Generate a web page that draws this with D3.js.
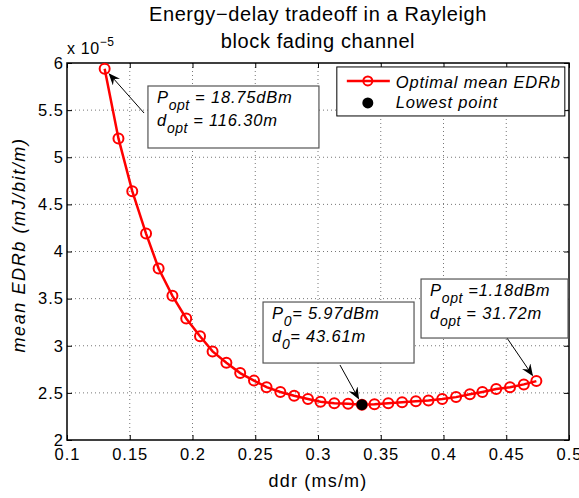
<!DOCTYPE html>
<html>
<head>
<meta charset="utf-8">
<script src="https://cdn.jsdelivr.net/npm/d3@7"></script>
<style>
  body { margin: 0; background: #fff; }
  text { font-family: "Liberation Sans", Arial, Helvetica, sans-serif; }
</style>
</head>
<body>
<svg id="chart" width="579" height="498"></svg>
<script>
// data (edrb in units of 1e-5 mJ/bit/m)
var ddr = [0.130, 0.141, 0.152, 0.163, 0.173, 0.184, 0.195, 0.206, 0.216, 0.227,
           0.238, 0.249, 0.259, 0.270, 0.281, 0.292, 0.302, 0.313, 0.324, 0.335,
           0.345, 0.356, 0.367, 0.378, 0.388, 0.399, 0.410, 0.421, 0.431, 0.442,
           0.453, 0.464, 0.474]
var edrb = [5.94, 5.20, 4.64, 4.19, 3.82, 3.53, 3.29, 3.10, 2.94, 2.82,
            2.71, 2.63, 2.56, 2.51, 2.47, 2.435, 2.405, 2.39, 2.385, 2.375,
            2.38, 2.39, 2.40, 2.41, 2.42, 2.435, 2.455, 2.485, 2.51, 2.54,
            2.56, 2.59, 2.625]
var lowestIndex = 19
var xTicks = [0.1, 0.15, 0.2, 0.25, 0.3, 0.35, 0.4, 0.45, 0.5]
var yTicks = [2, 2.5, 3, 3.5, 4, 4.5, 5, 5.5, 6]
var legendLabels = ["Optimal mean EDRb", "Lowest point"]

// annotation text: [main letter, subscript, rest]
var noteLines = [
  [["P", "opt", " = 18.75dBm"], ["d", "opt", " = 116.30m"]],
  [["P", "0", "= 5.97dBm"], ["d", "0", "= 43.61m"]],
  [["P", "opt", " =1.18dBm"], ["d", "opt", " = 31.72m"]]
]
var notePoint = [0, lowestIndex, 32]
// box top-left and arrow tail, in data coordinates
var noteBox = [[0.1645, 5.756], [0.2562, 3.464], [0.3821, 3.708]]
var noteTail = [[0.1614, 5.469], [0.3175, 2.796], [0.4506, 3.082]]
var noteSize = [[171, 62], [151, 61], [147, 59]]

var W = 579, H = 498
var margin = {top: 63, right: 10, bottom: 58, left: 67}
var width = W - margin.left - margin.right, height = H - margin.top - margin.bottom

var svg = d3.select("#chart")
var defs = svg.append("defs")
defs.append("marker")
  .attr("id", "head")
  .attr("viewBox", "0 0 12 10")
  .attr("refX", 11).attr("refY", 5)
  .attr("markerWidth", 12).attr("markerHeight", 10)
  .attr("markerUnits", "userSpaceOnUse")
  .attr("orient", "auto")
  .append("path")
  .attr("d", "M0,0 L12,5 L0,10 L4,5 Z")
  .attr("fill", "#000")

var g = svg.append("g").attr("transform", "translate(" + margin.left + "," + margin.top + ")")

var x = d3.scaleLinear().domain([0.1, 0.5]).range([0, width])
var y = d3.scaleLinear().domain([2, 6]).range([height, 0])

// grid
g.append("g").selectAll("line").data(xTicks.slice(1, -1)).enter().append("line")
  .attr("x1", d => x(d)).attr("x2", d => x(d)).attr("y1", 0).attr("y2", height)
  .style("stroke", "#777").style("stroke-width", 1).style("stroke-dasharray", "1,3")
g.append("g").selectAll("line").data(yTicks.slice(1, -1)).enter().append("line")
  .attr("y1", d => y(d)).attr("y2", d => y(d)).attr("x1", 0).attr("x2", width)
  .style("stroke", "#777").style("stroke-width", 1).style("stroke-dasharray", "1,3")

// axes with inward ticks
var fmt = d3.format("")
g.append("g").attr("transform", "translate(0," + height + ")")
  .call(d3.axisBottom(x).tickValues(xTicks).tickSizeInner(-5).tickSizeOuter(0).tickPadding(8).tickFormat(fmt))
g.append("g")
  .call(d3.axisLeft(y).tickValues(yTicks).tickSizeInner(-5).tickSizeOuter(0).tickPadding(3).tickFormat(fmt))
g.append("g").call(d3.axisTop(x).tickValues(xTicks).tickSizeInner(-5).tickSizeOuter(0).tickFormat(""))
g.append("g").attr("transform", "translate(" + width + ",0)")
  .call(d3.axisRight(y).tickValues(yTicks).tickSizeInner(-5).tickSizeOuter(0).tickFormat(""))
g.selectAll(".domain").remove()
g.selectAll(".tick line").style("stroke", "#000")
g.selectAll(".tick text").style("font-size", "16.5px").style("letter-spacing", "1px").style("fill", "#000")
g.append("rect").attr("width", width).attr("height", height)
  .style("fill", "none").style("stroke", "#000").style("stroke-width", 1.5)

// exponent
var ex = svg.append("text").attr("x", margin.left).attr("y", 54).style("font-size", "16px").style("letter-spacing", "0.6px")
ex.append("tspan").text("x 10")
ex.append("tspan").attr("dy", -8).style("font-size", "12px").text("\u22125")

// title
svg.append("text").attr("x", margin.left + width / 2).attr("y", 21)
  .attr("text-anchor", "middle").style("font-size", "20px").style("letter-spacing", "0.6px")
  .text("Energy\u2212delay tradeoff in a Rayleigh")
svg.append("text").attr("x", margin.left + width / 2).attr("y", 48)
  .attr("text-anchor", "middle").style("font-size", "20px").style("letter-spacing", "0.6px")
  .text("block fading channel")

// axis labels
svg.append("text").attr("x", margin.left + width / 2).attr("y", 487)
  .attr("text-anchor", "middle").style("font-size", "18px").style("letter-spacing", "1.2px").text("ddr (ms/m)")
svg.append("text").attr("transform", "translate(25,245)rotate(-90)")
  .attr("text-anchor", "middle").style("font-size", "18px").style("font-style", "italic").style("letter-spacing", "1.6px")
  .text("mean EDRb (mJ/bit/m)")

// curve
var line = d3.line().x((d, i) => x(ddr[i])).y(d => y(d))
g.append("path").datum(edrb).attr("d", line)
  .style("fill", "none").style("stroke", "#ff0000").style("stroke-width", 2.5)
g.append("g").selectAll("circle").data(edrb).enter().append("circle")
  .attr("cx", (d, i) => x(ddr[i])).attr("cy", d => y(d)).attr("r", 5)
  .style("fill", "none").style("stroke", "#ff0000").style("stroke-width", 2)
g.append("circle").attr("cx", x(ddr[lowestIndex])).attr("cy", y(edrb[lowestIndex])).attr("r", 5.5)
  .style("fill", "#000")

// annotations
for (let k = 0; k < noteLines.length; k++) {
  var bx = x(noteBox[k][0]), by = y(noteBox[k][1])
  var px = x(ddr[notePoint[k]]), py = y(edrb[notePoint[k]])
  var tx = x(noteTail[k][0]), ty = y(noteTail[k][1])
  // shorten the arrow a bit so the head stops by the marker
  var dx = px - tx, dy = py - ty, len = Math.sqrt(dx * dx + dy * dy)
  var hx = px - dx / len * 7, hy = py - dy / len * 7
  g.append("line").attr("x1", tx).attr("y1", ty).attr("x2", hx).attr("y2", hy)
    .style("stroke", "#000").style("stroke-width", 1).attr("marker-end", "url(#head)")
  g.append("rect").attr("x", bx).attr("y", by).attr("width", noteSize[k][0]).attr("height", noteSize[k][1])
    .style("fill", "#fff").style("stroke", "#555").style("stroke-width", 1.2)
  noteLines[k].forEach(function (parts, j) {
    var t = g.append("text").attr("x", bx + 9).attr("y", by + 17 + j * 23)
      .style("font-size", "16.5px").style("font-style", "italic").style("letter-spacing", "0.8px")
    t.append("tspan").text(parts[0])
    t.append("tspan").attr("dy", 7).style("font-size", "14px").style("letter-spacing", "0.5px").text(parts[1])
    t.append("tspan").attr("dy", -7).text(parts[2])
  })
}

// legend
var lg = g.append("g").attr("transform", "translate(" + x(0.315) + "," + y(5.958) + ")")
lg.append("rect").attr("width", 228).attr("height", 49)
  .style("fill", "#fff").style("stroke", "#000").style("stroke-width", 1)
lg.append("line").attr("x1", 10).attr("x2", 53).attr("y1", 14).attr("y2", 14)
  .style("stroke", "#ff0000").style("stroke-width", 2.5)
lg.append("circle").attr("cx", 31).attr("cy", 14).attr("r", 4.5)
  .style("fill", "none").style("stroke", "#ff0000").style("stroke-width", 2)
lg.append("circle").attr("cx", 31).attr("cy", 36).attr("r", 5.5).style("fill", "#000")
legendLabels.forEach(function (s, i) {
  lg.append("text").attr("x", 59).attr("y", 21 + i * 20)
    .style("font-size", "16.5px").style("font-style", "italic").style("letter-spacing", "0.8px").text(s)
})
</script>
</body>
</html>
